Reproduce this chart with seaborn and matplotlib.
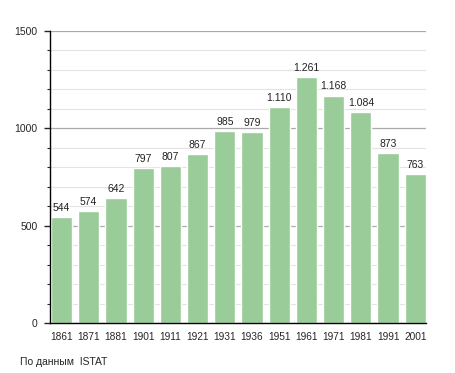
import numpy as np
import matplotlib
matplotlib.use("Agg")
import matplotlib.pyplot as plt
import seaborn as sns
import pandas as pd
from matplotlib.ticker import MultipleLocator

years = ["1861", "1871", "1881", "1901", "1911", "1921", "1931",
         "1936", "1951", "1961", "1971", "1981", "1991", "2001"]
population = [544, 574, 642, 797, 807, 867, 985, 979, 1110, 1261, 1168, 1084, 873, 763]
value_labels = ["544", "574", "642", "797", "807", "867", "985",
                "979", "1.110", "1.261", "1.168", "1.084", "873", "763"]

df = pd.DataFrame({"year": years, "pop": population})

sns.set_style("white")
plt.rcParams['font.family'] = ['Liberation Sans', 'DejaVu Sans']

fig = plt.figure(figsize=(4.55, 3.73), dpi=100)
ax = fig.add_axes([0.110, 0.134, 0.826, 0.783])

bw = 0.78
sns.barplot(data=df, x="year", y="pop", color="#99cc99", saturation=1,
            width=bw, ax=ax, zorder=2)

ax.set_ylim(0, 1500)
ax.set_xlim(-bw / 2 - 0.03, len(years) - 1 + bw / 2)
ax.yaxis.set_major_locator(MultipleLocator(500))
ax.yaxis.set_minor_locator(MultipleLocator(100))
ax.grid(axis="y", which="major", color="#aaaaaa", lw=0.9, zorder=0)
ax.grid(axis="y", which="minor", color="#e3e3e3", lw=0.8, zorder=0)
ax.set_axisbelow(True)

for s in ["top", "right"]:
    ax.spines[s].set_visible(False)
ax.spines["left"].set_color("black")
ax.spines["bottom"].set_color("black")
ax.spines["left"].set_linewidth(1)
ax.spines["bottom"].set_linewidth(1)

ax.tick_params(axis="y", which="major", left=True, length=4, width=1, labelsize=7.5, pad=5)
ax.tick_params(axis="y", which="minor", left=True, length=2.5, width=0.8)
ax.tick_params(axis="x", bottom=False, labelsize=7.3, pad=3)
ax.set_xlabel("")
ax.set_ylabel("")

for i, (v, lab) in enumerate(zip(population, value_labels)):
    ax.annotate(lab, (i, v), xytext=(0, 3), textcoords="offset points",
                ha="center", va="bottom", fontsize=7.5, color="#222222")

fig.text(0.044, 0.03, "По данным  ISTAT", fontsize=7.5, ha="left", va="center")

fig.savefig("out.png", dpi=100)
